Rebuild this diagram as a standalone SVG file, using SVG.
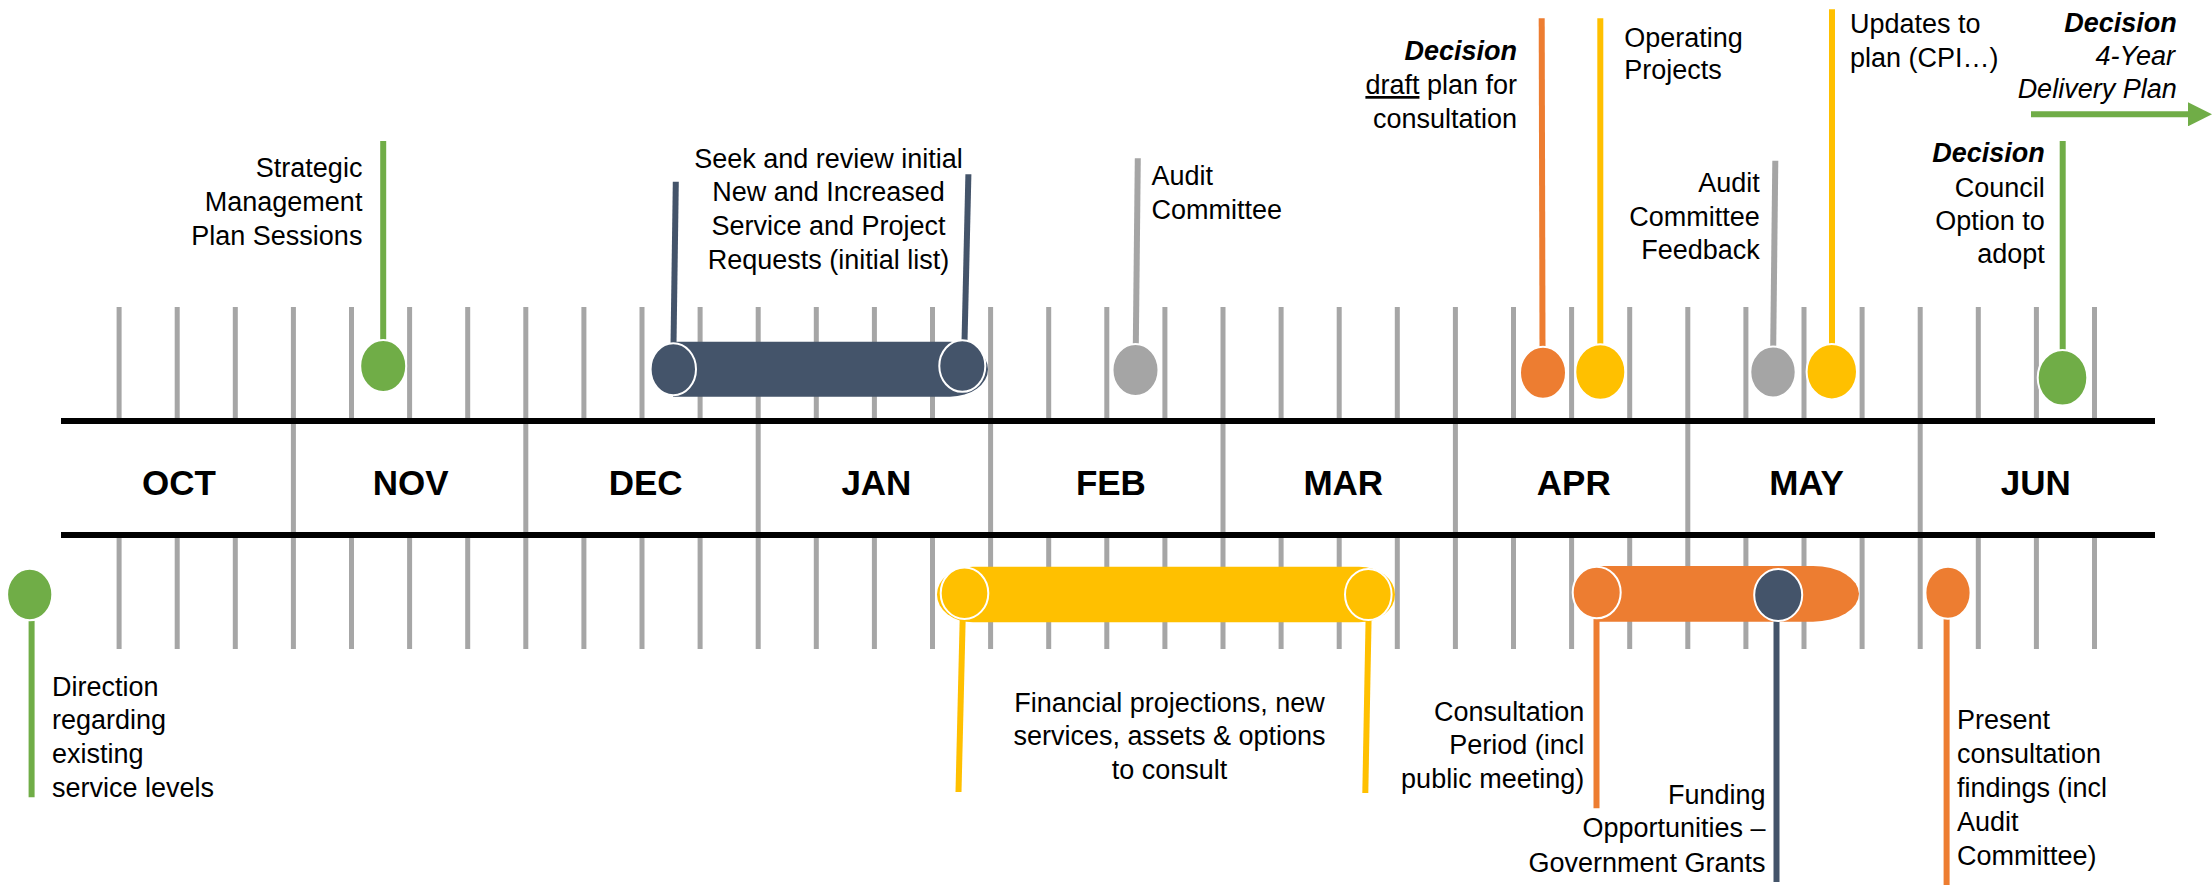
<svg xmlns="http://www.w3.org/2000/svg" width="2212" height="885" viewBox="0 0 2212 885">
<defs>
<style>
.t{font-family:"Liberation Sans",Arial,sans-serif;font-size:27px;fill:#000}
.e{text-anchor:end}
.m{text-anchor:middle}
.b{font-weight:bold;font-style:italic}
.i{font-style:italic}
.mon{font-family:"Liberation Sans",Arial,sans-serif;font-size:35px;font-weight:bold;text-anchor:middle;fill:#000}
.tick{stroke:#A6A6A6;stroke-width:5;fill:none}
.ax{stroke:#000;stroke-width:6}
.stem{stroke-width:6;fill:none}
.dot{stroke:#fff;stroke-width:2}
.g{fill:#70AD47}.gs{stroke:#70AD47}
.n{fill:#44546A}.ns{stroke:#44546A}
.o{fill:#ED7D31}.os{stroke:#ED7D31}
.y{fill:#FFC000}.ys{stroke:#FFC000}
.r{fill:#A5A5A5}.rs{stroke:#A5A5A5}
</style>
<marker id="ah" markerWidth="4" markerHeight="4" refX="2" refY="2" orient="auto" markerUnits="strokeWidth" viewBox="0 0 4 4">
<path d="M0,0 L4,2 L0,4 Z" fill="#70AD47"/>
</marker>
</defs>
<rect width="2212" height="885" fill="#fff"/>

<g id="axis">
<path class="tick" d="M119.1 307V421M177.2 307V421M235.3 307V421M293.4 307V421M351.5 307V421M409.6 307V421M467.7 307V421M525.8 307V421M583.9 307V421M642 307V421M700.1 307V421M758.2 307V421M816.3 307V421M874.4 307V421M932.5 307V421M990.6 307V421M1048.7 307V421M1106.8 307V421M1164.9 307V421M1223 307V421M1281.1 307V421M1339.2 307V421M1397.3 307V421M1455.4 307V421M1513.5 307V421M1571.6 307V421M1629.7 307V421M1687.8 307V421M1745.9 307V421M1804 307V421M1862.1 307V421M1920.2 307V421M1978.3 307V421M2036.4 307V421M2094.5 307V421"/>
<path class="tick" d="M119.1 535V649M177.2 535V649M235.3 535V649M293.4 535V649M351.5 535V649M409.6 535V649M467.7 535V649M525.8 535V649M583.9 535V649M642 535V649M700.1 535V649M758.2 535V649M816.3 535V649M874.4 535V649M932.5 535V649M990.6 535V649M1048.7 535V649M1106.8 535V649M1164.9 535V649M1223 535V649M1281.1 535V649M1339.2 535V649M1397.3 535V649M1455.4 535V649M1513.5 535V649M1571.6 535V649M1629.7 535V649M1687.8 535V649M1745.9 535V649M1804 535V649M1862.1 535V649M1920.2 535V649M1978.3 535V649M2036.4 535V649M2094.5 535V649"/>
<path class="tick" d="M293.4 421V535M525.8 421V535M758.2 421V535M990.6 421V535M1223 421V535M1455.4 421V535M1687.8 421V535M1920.2 421V535"/>
<line class="ax" x1="61" y1="421" x2="2155" y2="421"/>
<line class="ax" x1="61" y1="535" x2="2155" y2="535"/>
<text class="mon" x="179" y="495">OCT</text>
<text class="mon" x="410.6" y="495">NOV</text>
<text class="mon" x="645.6" y="495">DEC</text>
<text class="mon" x="876.4" y="495">JAN</text>
<text class="mon" x="1110.9" y="495">FEB</text>
<text class="mon" x="1343.3" y="495">MAR</text>
<text class="mon" x="1573.8" y="495">APR</text>
<text class="mon" x="1806.5" y="495">MAY</text>
<text class="mon" x="2035.8" y="495">JUN</text>
</g>

<g id="connectors">
<line x1="2031" y1="114.3" x2="2200" y2="114.3" stroke="#70AD47" stroke-width="6" marker-end="url(#ah)"/>
</g>

<g id="strategic">
<line class="stem gs" x1="383.2" y1="141" x2="383.2" y2="342"/>
<ellipse class="dot g" cx="383.2" cy="366" rx="23" ry="26"/>
<text class="t e" x="362.4" y="177">Strategic</text>
<text class="t e" x="362.4" y="211">Management</text>
<text class="t e" x="362.4" y="245">Plan Sessions</text>
</g>

<g id="seek-review">
<line class="stem ns" x1="675.8" y1="181.7" x2="673.5" y2="345"/>
<line class="stem ns" x1="968.4" y1="174.3" x2="964.5" y2="342"/>
<path class="n" d="M673 341.7H950A38 27.5 0 0 1 950 396.7H673Z"/>
<ellipse class="dot n" cx="673.3" cy="369.3" rx="22.7" ry="26"/>
<ellipse class="dot n" cx="962.3" cy="366" rx="23" ry="25.8"/>
<text class="t m" x="828.5" y="167.5">Seek and review initial</text>
<text class="t m" x="828.5" y="201.3">New and Increased</text>
<text class="t m" x="828.5" y="235">Service and Project</text>
<text class="t m" x="828.5" y="268.7">Requests (initial list)</text>
</g>

<g id="audit-committee">
<line class="stem rs" x1="1137.8" y1="158.3" x2="1135.8" y2="346"/>
<ellipse class="dot r" cx="1135.5" cy="370" rx="23" ry="26"/>
<text class="t" x="1151.5" y="185">Audit</text>
<text class="t" x="1151.5" y="219">Committee</text>
</g>

<g id="decision-draft">
<line class="stem os" x1="1541.7" y1="18.3" x2="1542.5" y2="348"/>
<ellipse class="dot o" cx="1543" cy="372.7" rx="23" ry="26"/>
<text class="t e b" x="1517" y="60">Decision</text>
<text class="t e" x="1517" y="94"><tspan text-decoration="underline">draft</tspan> plan for</text>
<text class="t e" x="1517" y="128.3">consultation</text>
</g>

<g id="operating-projects">
<line class="stem ys" x1="1600.3" y1="18.3" x2="1600.3" y2="346"/>
<ellipse class="dot y" cx="1600.3" cy="372" rx="25" ry="27.8"/>
<text class="t" x="1624.3" y="46.7">Operating</text>
<text class="t" x="1624.3" y="78.7">Projects</text>
</g>

<g id="audit-feedback">
<line class="stem rs" x1="1775.3" y1="160.7" x2="1773.2" y2="348"/>
<ellipse class="dot r" cx="1773" cy="372" rx="22.7" ry="25.5"/>
<text class="t e" x="1759.8" y="191.7">Audit</text>
<text class="t e" x="1759.8" y="226">Committee</text>
<text class="t e" x="1759.8" y="259.3">Feedback</text>
</g>

<g id="updates-plan">
<line class="stem ys" x1="1832" y1="9.3" x2="1832" y2="346"/>
<ellipse class="dot y" cx="1831.8" cy="371.7" rx="25.2" ry="27.7"/>
<text class="t" x="1849.9" y="33.3">Updates to</text>
<text class="t" x="1849.9" y="66.7">plan (CPI…)</text>
</g>

<g id="decision-council">
<line class="stem gs" x1="2062.7" y1="141" x2="2062.7" y2="352"/>
<ellipse class="dot g" cx="2062.5" cy="377.8" rx="24.8" ry="27.8"/>
<text class="t e b" x="2044.8" y="162.3">Decision</text>
<text class="t e" x="2044.8" y="196.7">Council</text>
<text class="t e" x="2044.8" y="230">Option to</text>
<text class="t e" x="2044.8" y="263.3">adopt</text>
</g>

<g id="decision-4year">
<text class="t e b" x="2176.7" y="31.7">Decision</text>
<text class="t e i" x="2175" y="65">4-Year</text>
<text class="t e i" x="2176.7" y="98.3">Delivery Plan</text>
</g>

<g id="direction">
<line class="stem gs" x1="31.6" y1="618" x2="31.6" y2="797.3"/>
<ellipse class="dot g" cx="29.7" cy="594.5" rx="22.6" ry="25.8"/>
<text class="t" x="51.9" y="695.7">Direction</text>
<text class="t" x="51.9" y="729">regarding</text>
<text class="t" x="51.9" y="763.3">existing</text>
<text class="t" x="51.9" y="796.7">service levels</text>
</g>

<g id="financial">
<line class="stem ys" x1="962.7" y1="618" x2="958.5" y2="792"/>
<line class="stem ys" x1="1368.6" y1="618" x2="1365.3" y2="793"/>
<rect class="y" x="937" y="566.7" width="458" height="55.6" rx="36" ry="27.8"/>
<ellipse class="dot y" cx="964.5" cy="593.2" rx="23.8" ry="25.8"/>
<ellipse class="dot y" cx="1368.3" cy="594.5" rx="23.3" ry="25.6"/>
<text class="t m" x="1169.5" y="711.7">Financial projections, new</text>
<text class="t m" x="1169.5" y="745">services, assets &amp; options</text>
<text class="t m" x="1169.5" y="779.3">to consult</text>
</g>

<g id="consultation">
<line class="stem os" x1="1596.5" y1="617" x2="1596.5" y2="808.3"/>
<path class="o" d="M1596 566H1813A46 27.85 0 0 1 1813 621.7H1596Z"/>
<ellipse class="dot o" cx="1596.7" cy="592.5" rx="24" ry="25.8"/>
<text class="t e" x="1584.2" y="720.7">Consultation</text>
<text class="t e" x="1584.2" y="754.3">Period (incl</text>
<text class="t e" x="1584.2" y="788.3">public meeting)</text>
</g>

<g id="funding">
<line class="stem ns" x1="1776.5" y1="618" x2="1776.5" y2="882"/>
<ellipse class="dot n" cx="1778.2" cy="595" rx="24" ry="26"/>
<text class="t e" x="1765.5" y="804.3">Funding</text>
<text class="t e" x="1765.5" y="837.3">Opportunities –</text>
<text class="t e" x="1765.5" y="871.7">Government Grants</text>
</g>

<g id="present-findings">
<line class="stem os" x1="1946.6" y1="617" x2="1946.6" y2="885"/>
<ellipse class="dot o" cx="1948" cy="592.7" rx="22.6" ry="26"/>
<text class="t" x="1957" y="729.3">Present</text>
<text class="t" x="1957" y="763.3">consultation</text>
<text class="t" x="1957" y="797.3">findings (incl</text>
<text class="t" x="1957" y="830.7">Audit</text>
<text class="t" x="1957" y="865">Committee)</text>
</g>
</svg>
